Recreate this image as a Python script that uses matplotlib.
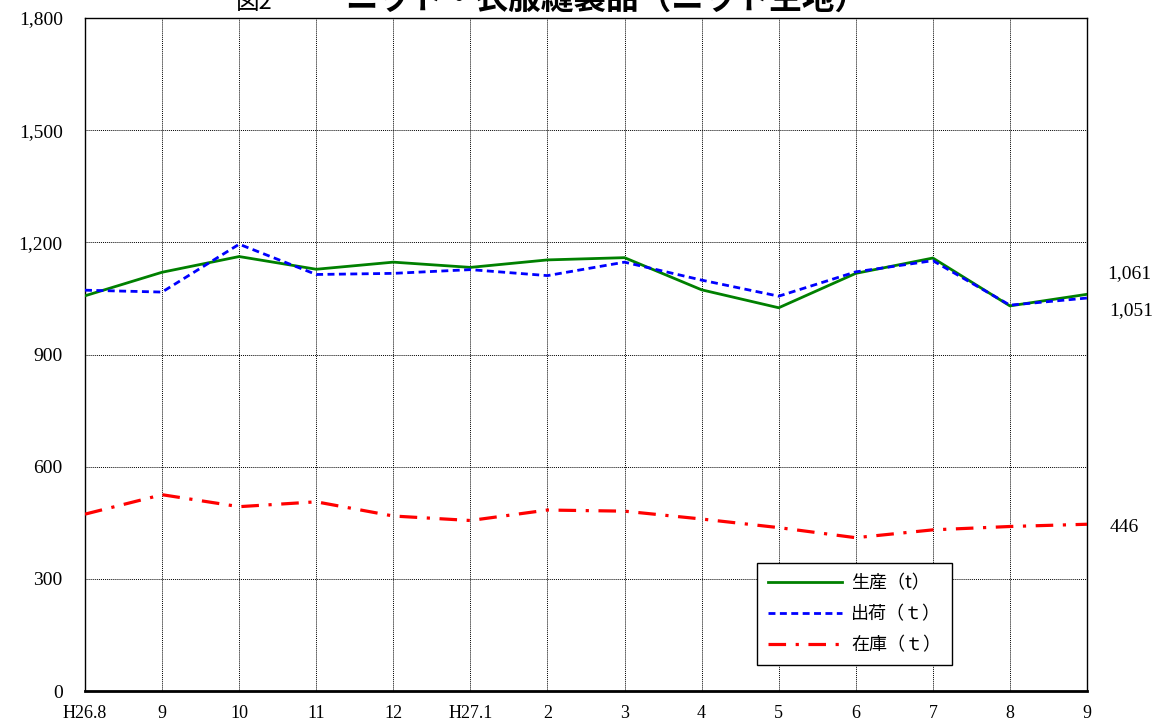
import matplotlib
matplotlib.use("Agg")
import matplotlib.pyplot as plt
import numpy as np

# ---- data ----
months = ["H26.8", "9", "10", "11", "12", "H27.1", "2", "3", "4", "5", "6", "7", "8", "9"]
production = [1057, 1120, 1162, 1128, 1147, 1133, 1153, 1159, 1073, 1025, 1117, 1158, 1030, 1061]
shipments = [1072, 1067, 1195, 1114, 1117, 1127, 1111, 1147, 1099, 1056, 1121, 1151, 1032, 1051]
inventory = [473, 525, 493, 506, 468, 456, 484, 481, 460, 437, 410, 431, 440, 446]
series_labels = ["生産（t）", "出荷（ｔ）", "在庫（ｔ）"]
y_ticks = [0, 300, 600, 900, 1200, 1500, 1800]
y_tick_labels = ["0", "300", "600", "900", "1,200", "1,500", "1,800"]
end_labels = ["1,061", "1,051", "446"]
title_prefix = "図2"
title_main = "ニット・衣服縫製品（ニット生地）"

W, H = 1166, 725
fig = plt.figure(figsize=(W / 100, H / 100), dpi=100)
ax = fig.add_axes([85 / W, 1 - 691 / H, (1087 - 85) / W, (691 - 18) / H])

x = np.arange(len(months))
serif = ["Liberation Serif", "DejaVu Serif"]
cjk = ["Noto Sans CJK JP", "DejaVu Sans"]

l1, = ax.plot(x, production, color="#008000", lw=2.0, label=series_labels[0], zorder=3)
l2, = ax.plot(x, shipments, color="#0000FF", lw=2.0, dashes=(2.5, 1.6), label=series_labels[1], zorder=3)
l3, = ax.plot(x, inventory, color="#FF0000", lw=2.3, dashes=(5.5, 3, 1, 3), label=series_labels[2], zorder=3)

ax.set_xlim(0, len(months) - 1)
ax.set_ylim(0, 1800)
ax.set_xticks(x)
ax.set_xticklabels(months, fontfamily=serif, fontsize=13)
ax.set_yticks(y_ticks)
ax.set_yticklabels(y_tick_labels, fontfamily=serif, fontsize=14)
ax.tick_params(axis="both", length=0)
ax.tick_params(axis="x", pad=10)
ax.tick_params(axis="y", pad=16)

ax.grid(True, color="black", linestyle=(0, (1, 1)), linewidth=0.7)
ax.set_axisbelow(True)
for s in ["top", "right", "left"]:
    ax.spines[s].set_linewidth(1.0)
    ax.spines[s].set_color("black")
ax.spines["bottom"].set_linewidth(2.0)

leg = ax.legend(handles=[l1, l2, l3], loc="lower left", bbox_to_anchor=(0.671, 0.0386),
                borderaxespad=0, prop={"family": cjk, "size": 13}, frameon=True,
                fancybox=False, edgecolor="black", framealpha=1, handlelength=4.1,
                labelspacing=0.72, borderpad=0.6, handletextpad=0.5)
leg.get_frame().set_linewidth(1.0)

ax.annotate(end_labels[0], xy=(x[-1], production[-1]), xytext=(42, 21), textcoords="offset pixels",
            ha="center", va="center", fontfamily=serif, fontsize=14, annotation_clip=False)
ax.annotate(end_labels[1], xy=(x[-1], shipments[-1]), xytext=(44, -13), textcoords="offset pixels",
            ha="center", va="center", fontfamily=serif, fontsize=14, annotation_clip=False)
ax.annotate(end_labels[2], xy=(x[-1], inventory[-1]), xytext=(37, -3), textcoords="offset pixels",
            ha="center", va="center", fontfamily=serif, fontsize=14, annotation_clip=False)

# title, clipped at the top edge as in the reference
fig.text(236 / W, 1 - 9 / H, title_prefix, ha="left", va="baseline",
         fontfamily=cjk, fontsize=17)
fig.text(345 / W, 1 - 9 / H, title_main, ha="left", va="baseline",
         fontfamily=cjk, fontsize=23.5, fontweight="bold")

fig.savefig("out.png", dpi=100)
